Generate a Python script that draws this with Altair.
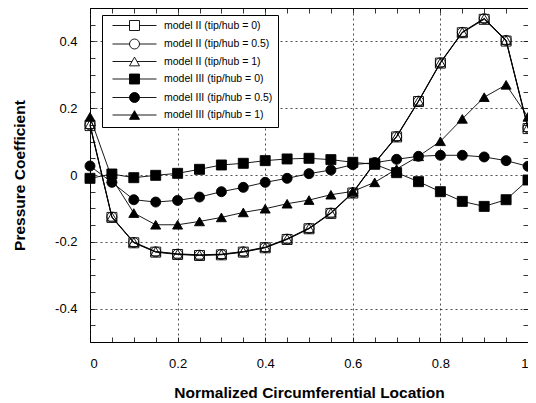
import altair as alt
import pandas as pd

# ---------------- data ----------------
x_vals = [0.0, 0.05, 0.1, 0.15, 0.2, 0.25, 0.3, 0.35, 0.4, 0.45, 0.5,
          0.55, 0.6, 0.65, 0.7, 0.75, 0.8, 0.85, 0.9, 0.95, 1.0]

series_names = ["model II (tip/hub = 0)", "model II (tip/hub = 0.5)", "model II (tip/hub = 1)",
                "model III (tip/hub = 0)", "model III (tip/hub = 0.5)", "model III (tip/hub = 1)"]

m2_0 = [0.148, -0.127, -0.203, -0.231, -0.238, -0.241, -0.239, -0.231, -0.218, -0.193, -0.161,
        -0.115, -0.054, 0.035, 0.114, 0.220, 0.335, 0.426, 0.466, 0.401, 0.139]
m2_05 = [0.150, -0.126, -0.202, -0.230, -0.237, -0.240, -0.238, -0.230, -0.217, -0.192, -0.160,
         -0.114, -0.053, 0.036, 0.115, 0.221, 0.336, 0.427, 0.468, 0.403, 0.141]
m2_1 = [0.152, -0.125, -0.201, -0.229, -0.236, -0.239, -0.237, -0.229, -0.216, -0.191, -0.159,
        -0.113, -0.052, 0.037, 0.116, 0.222, 0.337, 0.428, 0.469, 0.404, 0.143]
m3_0 = [-0.010, 0.003, -0.008, -0.001, 0.005, 0.017, 0.030, 0.035, 0.043, 0.048, 0.050,
        0.046, 0.038, 0.032, 0.007, -0.020, -0.050, -0.079, -0.094, -0.074, -0.015]
m3_05 = [0.027, -0.022, -0.074, -0.081, -0.076, -0.066, -0.050, -0.037, -0.022, -0.010, 0.004,
         0.015, 0.031, 0.037, 0.047, 0.056, 0.059, 0.059, 0.054, 0.043, 0.026]
m3_1 = [0.174, -0.010, -0.114, -0.149, -0.149, -0.139, -0.127, -0.112, -0.101, -0.086, -0.075,
        -0.059, -0.049, -0.022, 0.018, 0.056, 0.101, 0.168, 0.233, 0.270, 0.174]

all_series = [m2_0, m2_05, m2_1, m3_0, m3_05, m3_1]

x_major = [0, 0.2, 0.4, 0.6, 0.8, 1]
y_major = [-0.4, -0.2, 0, 0.2, 0.4]
y_minor = [-0.5, -0.45, -0.4, -0.35, -0.3, -0.25, -0.2, -0.15, -0.1, -0.05, 0.0,
           0.05, 0.1, 0.15, 0.2, 0.25, 0.3, 0.35, 0.4, 0.45, 0.5]

rows = []
for name, ys in zip(series_names, all_series):
    for xv, yv in zip(x_vals, ys):
        rows.append({"x": xv, "y": yv, "series": name})
df = pd.DataFrame(rows)

# ---------------- styling ----------------
FONT = "Liberation Sans"
xscale = alt.Scale(domain=[0, 1], nice=False, zero=False)
yscale = alt.Scale(domain=[-0.5, 0.5], nice=False, zero=False)

shapes_plot = ["square", "circle", "triangle-up", "square", "circle", "triangle-up"]
fills = ["transparent", "transparent", "transparent", "black", "black", "black"]
strokes = ["black"] * 6
sq = "M-1,-1H1V1H-1Z"
ci = "M1,0A1,1,0,1,1,-1,0A1,1,0,1,1,1,0Z"
tr = "M0,-0.87L1,0.87H-1Z"
shapes_legend = [
    "M-4.4,0H-1M1,0H4.4" + sq,
    "M-4.4,0H-1M1,0H4.4" + ci,
    "M-4.4,0H-0.5M0.5,0H4.4" + tr,
    "M-4.4,0H4.4" + sq,
    "M-4.4,0H4.4" + ci,
    "M-4.4,0H4.4" + tr,
]

main_x_axis = alt.Axis(orient="bottom", values=x_major, labelExpr="'' + datum.value",
                       grid=True, gridDash=[2, 3], gridColor="#222222", gridWidth=0.8,
                       ticks=False, domain=False, labelFont=FONT, labelFontSize=13,
                       labelColor="black", labelPadding=15,
                       title="Normalized Circumferential Location", titleFont=FONT,
                       titleFontSize=15.5, titleFontWeight="bold", titleColor="black",
                       titlePadding=15)
main_y_axis = alt.Axis(orient="left", values=y_major, labelExpr="'' + datum.value",
                       grid=True, gridDash=[2, 3], gridColor="#222222", gridWidth=0.8,
                       ticks=False, domain=False, labelFont=FONT, labelFontSize=13,
                       labelColor="black", labelPadding=13,
                       title="Pressure Coefficient", titleFont=FONT,
                       titleFontSize=15.5, titleFontWeight="bold", titleColor="black",
                       titlePadding=27)


def tick_axis(orient, vals):
    return alt.Axis(orient=orient, values=vals, labels=False, grid=False, domain=False,
                    ticks=True, tickSize=5, offset=-5, tickColor="black", tickWidth=0.8,
                    title="")


lines = alt.Chart(df).mark_line(color="black", strokeWidth=0.9).encode(
    x=alt.X("x:Q", scale=xscale, axis=main_x_axis),
    y=alt.Y("y:Q", scale=yscale, axis=main_y_axis),
    detail="series:N",
    order="x:Q",
)

points = alt.Chart(df).mark_point(filled=False, opacity=1, strokeWidth=0.9, size=100).encode(
    x=alt.X("x:Q", scale=xscale, axis=tick_axis("bottom", x_vals)),
    y=alt.Y("y:Q", scale=yscale, axis=tick_axis("left", y_minor)),
    shape=alt.Shape("series:N", scale=alt.Scale(domain=series_names, range=shapes_plot),
                    legend=None),
    fill=alt.Fill("series:N", scale=alt.Scale(domain=series_names, range=fills),
                  legend=None),
    stroke=alt.Stroke("series:N", scale=alt.Scale(domain=series_names, range=strokes),
                      legend=None),
)

leg = alt.Legend(title=None, orient="none", legendX=12, legendY=7,
                 strokeColor="black", fillColor="white", padding=5,
                 labelFont=FONT, labelFontSize=10.5, labelColor="black",
                 labelExpr="datum.label + '\u00a0\u00a0\u00a0\u00a0\u00a0\u00a0\u00a0\u00a0\u00a0\u00a0'",
                 symbolSize=100, symbolStrokeWidth=0.9,
                 symbolOffset=22, labelOffset=24, rowPadding=3.5)

legend_layer = alt.Chart(df).transform_filter("datum.x > 5").mark_point(
    filled=False, opacity=1, strokeWidth=0.9, size=100).encode(
    x=alt.X("x:Q", scale=xscale, axis=tick_axis("top", x_vals)),
    y=alt.Y("y:Q", scale=yscale, axis=tick_axis("right", y_minor)),
    shape=alt.Shape("series:N", scale=alt.Scale(domain=series_names, range=shapes_legend),
                    legend=leg),
    fill=alt.Fill("series:N", scale=alt.Scale(domain=series_names, range=fills),
                  legend=leg),
    stroke=alt.Stroke("series:N", scale=alt.Scale(domain=series_names, range=strokes),
                      legend=leg),
)

chart = alt.layer(lines, points, legend_layer).resolve_scale(
    shape="independent", fill="independent", stroke="independent"
).resolve_axis(
    x="independent", y="independent"
).properties(
    width=438, height=334,
    autosize=alt.AutoSizeParams(type="none"),
    padding={"left": 82, "top": 0, "right": 0, "bottom": 58},
).configure_view(stroke="black", strokeWidth=1)

chart.save("out.html", embed_options={"renderer": "svg", "actions": False})
